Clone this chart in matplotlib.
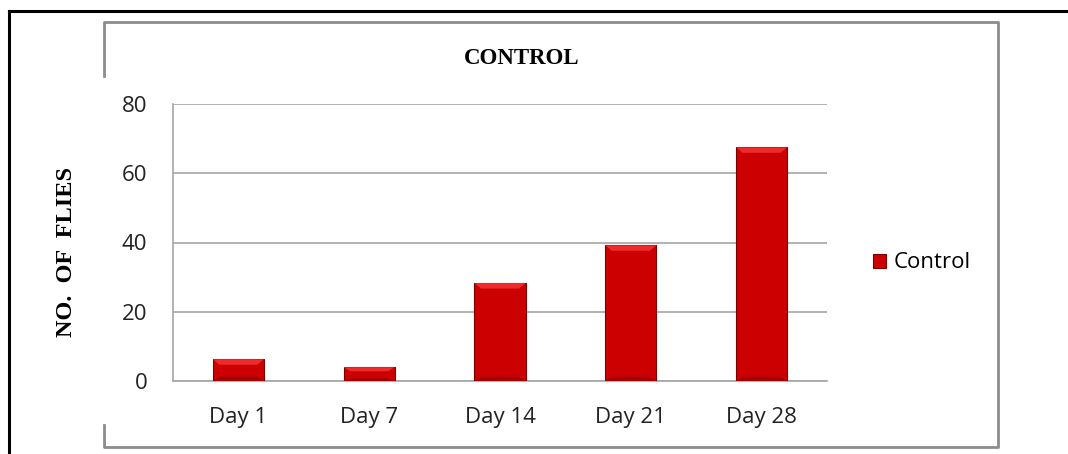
import matplotlib
matplotlib.use("Agg")
import matplotlib.pyplot as plt
from matplotlib.patches import Patch, Polygon
from matplotlib.lines import Line2D

# data
days = ["Day 1", "Day 7", "Day 14", "Day 21", "Day 28"]
flies = [6.3, 4.0, 28.3, 39.2, 67.5]
yticks = [0, 20, 40, 60, 80]

W, H = 1068, 454
fig = plt.figure(figsize=(W / 100, H / 100), dpi=100)
fig.patch.set_facecolor("white")


def fx(px):
    return px / W


def fy(py):
    return 1 - py / H


# outer black border (top and left only visible)
fig.add_artist(Line2D([fx(9), fx(1068)], [fy(11), fy(11)], color="black", lw=2.2))
fig.add_artist(Line2D([fx(9), fx(9)], [fy(11), fy(454)], color="black", lw=2.2))

# grey chart frame, left side interrupted by the axis label area
grey = "#8c8c8c"
fig.add_artist(Line2D([fx(104), fx(104), fx(998), fx(998), fx(104), fx(104)],
                      [fy(76), fy(22), fy(22), fy(447), fy(447), fy(425)],
                      color=grey, lw=2))

ax = fig.add_axes([fx(173), fy(381), fx(827) - fx(173), fy(104) - fy(381)])
x = list(range(len(days)))
bw = 0.39
ax.bar(x, flies, width=bw, color="#cc0000", edgecolor="#7a0000",
       linewidth=0.8, zorder=3)

# bevel highlight on top, darker band at the foot of each bar
for xi, v in zip(x, flies):
    d = min(1.6, v * 0.3)
    ax.add_patch(Polygon([(xi - bw / 2, v), (xi + bw / 2, v),
                          (xi + bw / 2 - 0.05, v - d), (xi - bw / 2 + 0.05, v - d)],
                         closed=True, facecolor="#ee2a2a", edgecolor="none", zorder=4))
    ax.add_patch(Polygon([(xi - bw / 2, 0), (xi + bw / 2, 0),
                          (xi + bw / 2 - 0.05, min(1.2, v * 0.2)),
                          (xi - bw / 2 + 0.05, min(1.2, v * 0.2))],
                         closed=True, facecolor="#a00000", edgecolor="none", zorder=4))

ax.set_xlim(-0.5, len(days) - 0.5)
ax.set_ylim(0, 80)
ax.set_yticks(yticks)
ax.set_xticks(x)
ax.set_xticklabels(days)
ax.tick_params(length=0, labelsize=16, colors="#222222")
ax.tick_params(axis="x", pad=19)
ax.tick_params(axis="y", pad=18.5)
for lbl in ax.get_xticklabels() + ax.get_yticklabels():
    lbl.set_fontfamily("Open Sans")
ax.yaxis.grid(True, color="#a6a6a6", lw=1.2, zorder=0)
ax.set_axisbelow(True)
for s in ["top", "right"]:
    ax.spines[s].set_visible(False)
for s in ["left", "bottom"]:
    ax.spines[s].set_color("#a6a6a6")
    ax.spines[s].set_linewidth(1.2)

fig.text(fx(522), fy(58), "CONTROL", ha="center", va="center",
         fontfamily="Liberation Serif", fontweight="bold", fontsize=16.5)
fig.text(fx(66), fy(252), "NO.  OF  FLIES", ha="center", va="center", rotation=90,
         fontfamily="Liberation Serif", fontweight="bold", fontsize=17.5)

handle = Patch(facecolor="#cc0000", edgecolor="#7a0000", linewidth=0.8)
fig.legend([handle], ["Control"], loc="center left",
           bbox_to_anchor=(fx(853), fy(263)), frameon=False,
           handlelength=0.6, handleheight=0.6, handletextpad=0.35,
           prop={"family": "Open Sans", "size": 16})

fig.savefig("out.png", dpi=100)
